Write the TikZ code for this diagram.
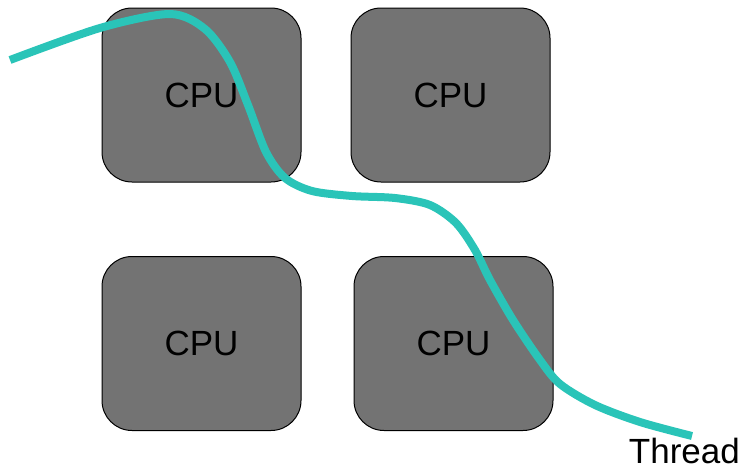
\documentclass[tikz,border=0pt]{standalone}
\usepackage{fontspec}
\setmainfont{Liberation Sans}
\definecolor{cpugray}{RGB}{115,115,115}
\definecolor{threadteal}{RGB}{42,196,184}
\begin{document}
\begin{tikzpicture}[x=1pt,y=-1pt,
  cpubox/.style={draw=black,line width=1pt,fill=cpugray,rounded corners=30pt,
    minimum width=199pt,minimum height=174pt,inner sep=0pt,
    font=\fontsize{35}{42}\selectfont},
  threadline/.style={draw=threadteal,line width=8pt,line cap=butt}]
\useasboundingbox (0,0) rectangle (741,471);
\node[cpubox] (c1) at (201.5,95) {CPU};
\node[cpubox] (c2) at (450.5,95) {CPU};
\node[cpubox] (c3) at (201.5,343.5) {CPU};
\node[cpubox] (c4) at (453.5,343.5) {CPU};
\node[anchor=base east,inner sep=0pt,font=\fontsize{35}{42}\selectfont] (thread) at (740,463) {Thread};
\coordinate (ts) at (10,60);
\coordinate (te) at (692,436);
\draw[threadline] plot[smooth,tension=0.5] coordinates {(10,60) (100,28) (170,14) (205,29) (230,62) (248,105) (266,152) (285,178) (312,191) (352,196) (395,198) (430,205) (456,223) (475,250) (490,280) (513,320) (540,360) (560,384) (595,405) (640,422) (692,436)};
\end{tikzpicture}
\end{document}
